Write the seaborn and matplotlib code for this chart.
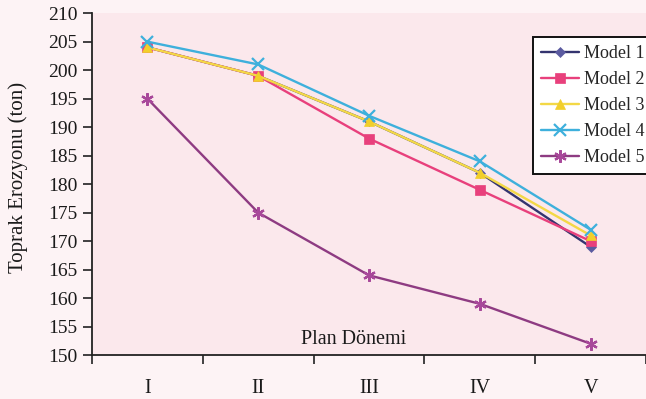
import matplotlib
matplotlib.use("Agg")
import matplotlib.pyplot as plt
import seaborn as sns
from matplotlib.ticker import FixedLocator, NullFormatter, FixedFormatter

# ---- data ----
periods = ["I", "II", "III", "IV", "V"]
model_1 = [204, 199, 191, 182, 169]
model_2 = [204, 199, 188, 179, 170]
model_3 = [204, 199, 191, 182, 171]
model_4 = [205, 201, 192, 184, 172]
model_5 = [195, 175, 164, 159, 152]
series_names = ["Model 1", "Model 2", "Model 3", "Model 4", "Model 5"]
y_ticks = list(range(150, 211, 5))
y_label = "Toprak Erozyonu (ton)"
x_label = "Plan Dönemi"

# ---- styles ----
styles = [
    dict(color="#34346f", marker="D", ms=5.5, mc="#5b5ba0"),
    dict(color="#e8407c", marker="s", ms=6.5, mc="#e8407c"),
    dict(color="#f3d846", marker="^", ms=7.5, mc="#f2cf2a"),
    dict(color="#3eb0dc", marker="x", ms=8, mc="#3eb0dc"),
    dict(color="#8e3b82", marker=(6, 2, 0), ms=9, mc="#a8489a"),
]

sns.set_theme(style="ticks")
plt.rcParams["font.family"] = ["Liberation Serif", "DejaVu Serif"]

fig = plt.figure(figsize=(6.46, 3.99), dpi=100)
fig.patch.set_facecolor("#fdf3f5")
ax = fig.add_axes([0.1424, 0.110, 0.8576, 0.857])
ax.set_facecolor("#fbe8ec")

positions = list(range(len(periods)))
all_series = [model_1, model_2, model_3, model_4, model_5]
for name, vals, st in zip(series_names, all_series, styles):
    filled = st["marker"] not in ("x", (6, 2, 0))
    sns.lineplot(
        x=positions, y=vals, ax=ax, color=st["color"], linewidth=1.7,
        marker=st["marker"], markersize=st["ms"],
        markerfacecolor=st["mc"], markeredgecolor=st["mc"],
        markeredgewidth=1.6 if not filled else 0.5,
        label=name,
    )

ax.set_xlim(-0.5, len(periods) - 0.5)
ax.set_ylim(150, 210)
ax.yaxis.set_major_locator(FixedLocator(y_ticks))

bounds = [p - 0.5 for p in positions] + [positions[-1] + 0.5]
ax.xaxis.set_major_locator(FixedLocator(bounds))
ax.xaxis.set_major_formatter(NullFormatter())
ax.xaxis.set_minor_locator(FixedLocator(positions))
ax.xaxis.set_minor_formatter(FixedFormatter(periods))
ax.tick_params(axis="x", which="major", length=6.5, width=1.2, color="#222222", direction="out")
ax.tick_params(axis="x", which="minor", length=0, pad=17, labelsize=14.5, labelcolor="#1a1a1a")
ax.tick_params(axis="y", length=6.5, width=1.2, color="#222222", direction="out",
               pad=4, labelsize=14, labelcolor="#1a1a1a")

for side in ("top", "right"):
    ax.spines[side].set_visible(False)
for side in ("left", "bottom"):
    ax.spines[side].set_linewidth(1.3)
    ax.spines[side].set_color("#222222")

ax.set_ylabel(y_label, fontsize=15, color="#1a1a1a", va="center")
ax.yaxis.set_label_coords(-0.134, 0.52)
ax.set_xlabel(x_label, fontsize=14.5, color="#1a1a1a", va="center")
ax.xaxis.set_label_coords(0.473, 0.047)

leg = ax.legend(loc="upper left", bbox_to_anchor=(0.796, 0.93), frameon=True,
                fancybox=False, edgecolor="#111111", facecolor="white", framealpha=1,
                fontsize=13, handlelength=2.1, handletextpad=0.25, labelspacing=0.5,
                borderpad=0.45, borderaxespad=0)
leg.get_frame().set_linewidth(1.4)

fig.savefig("out.png", dpi=100, facecolor=fig.get_facecolor())
